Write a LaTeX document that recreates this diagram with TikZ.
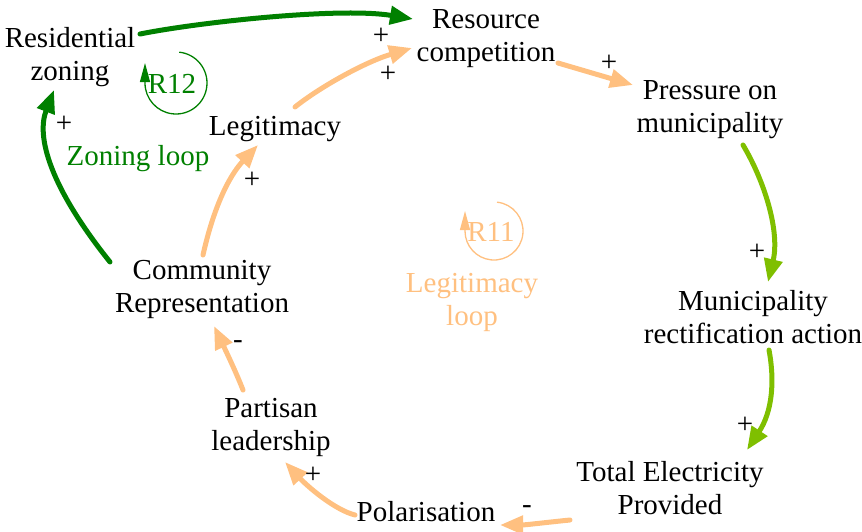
\documentclass[tikz,border=0pt]{standalone}
\usepackage{fontspec}
\setmainfont{Liberation Serif}
\usetikzlibrary{arrows.meta}
\definecolor{dkgreen}{RGB}{0,128,0}
\definecolor{ltgreen}{RGB}{127,191,0}
\definecolor{peach}{RGB}{255,192,128}
\tikzset{
  var/.style={font=\fontsize{29}{33}\selectfont, align=center, inner sep=0pt, text=black},
  pol/.style={font=\fontsize{29}{33}\selectfont, inner sep=0pt, text=black},
  link/.style={line width=5pt, line cap=round, -{Triangle[length=23pt,width=18pt]}},
  darklink/.style={link, draw=dkgreen},
  lightlink/.style={link, draw=ltgreen},
  peachlink/.style={link, draw=peach},
  looparrow/.style={line width=1.3pt, -{Triangle[length=19pt,width=10pt]}},
  looplabel/.style={font=\fontsize{29}{33}\selectfont, align=center, inner sep=0pt}
}
\begin{document}
\begin{tikzpicture}[x=1pt,y=-1pt]
\useasboundingbox (0,0) rectangle (862,531);
\begin{scope}[yshift=-2pt]
% variables
\node[var] (rz)  at (70,55)   {Residential\\zoning};
\node[var] (rc)  at (486,37)  {Resource\\competition};
\node[var] (pm)  at (710,108) {Pressure on\\municipality};
\node[var] (mra) at (753,315) {Municipality\\rectification action};
\node[var] (tep) at (670,486) {Total Electricity\\Provided};
\node[var] (pol) at (426,510) {Polarisation};
\node[var] (pl)  at (271,425) {Partisan\\leadership};
\node[var] (cr)  at (202,287) {Community\\Representation};
\node[var] (leg) at (275,127) {Legitimacy};
% loop labels
\node[looplabel, text=dkgreen] (zl) at (138,157) {Zoning loop};
\node[looplabel, text=peach, yshift=2pt] (ll) at (472,302) {Legitimacy\\loop};
\node[looplabel, text=dkgreen] (r12) at (172,82) {R12};
\node[looplabel, text=peach] (r11) at (491,230) {R11};
\coordinate (r12c) at (176,81);
\coordinate (r11c) at (494,229);
\draw[looparrow, draw=dkgreen] ([shift={(84:31pt)}]r12c) arc[start angle=84, end angle=-180, radius=31pt] -- ++(0,-20);
\draw[looparrow, draw=peach] ([shift={(84:29pt)}]r11c) arc[start angle=84, end angle=-180, radius=29pt] -- ++(0,-20);
% links
\draw[darklink] ([shift={(70,-23)}]rz.center) .. controls (200,20) and (340,5) .. ([shift={(-73,-20)}]rc.center);
\draw[peachlink] ([shift={(20,-22)}]leg.center) .. controls (320,85) and (365,60) .. ([shift={(-74,9)}]rc.center);
\draw[peachlink] ([shift={(72,24)}]rc.center) -- ([shift={(-77,-25)}]pm.center);
\draw[lightlink] ([shift={(33,35)}]pm.center) .. controls (765,180) and (780,230) .. ([shift={(15,-35)}]mra.center);
\draw[lightlink] ([shift={(16,33)}]mra.center) .. controls (775,380) and (772,410) .. ([shift={(77,-38)}]tep.center);
\draw[peachlink] ([shift={(-100,32)}]tep.center) .. controls (550,520) and (525,523) .. ([shift={(74,13)}]pol.center);
\draw[peachlink] ([shift={(-71,3)}]pol.center) .. controls (335,508) and (308,485) .. ([shift={(14,35)}]pl.center);
\draw[peachlink] ([shift={(-28,-37)}]pl.center) .. controls (236,370) and (224,345) .. ([shift={(12,37)}]cr.center);
\draw[peachlink] ([shift={(1,-34)}]cr.center) .. controls (213,208) and (228,175) .. ([shift={(-17,16)}]leg.center);
\draw[darklink] ([shift={(-92,-27)}]cr.center) .. controls (50,185) and (36,135) .. ([shift={(-16,33)}]rz.center);
% polarities
\node[pol] (s1)  at (381,34)  {+};
\node[pol] (s2)  at (388,72)  {+};
\node[pol] (s3)  at (609,61)  {+};
\node[pol] (s4)  at (757,250) {+};
\node[pol] (s5)  at (745,423) {+};
\node[pol] (s6)  at (527,508) {-};
\node[pol] (s7)  at (313,473) {+};
\node[pol] (s8)  at (238,343) {-};
\node[pol] (s9)  at (252,178) {+};
\node[pol] (s10) at (64,122)  {+};
\end{scope}
\end{tikzpicture}
\end{document}
